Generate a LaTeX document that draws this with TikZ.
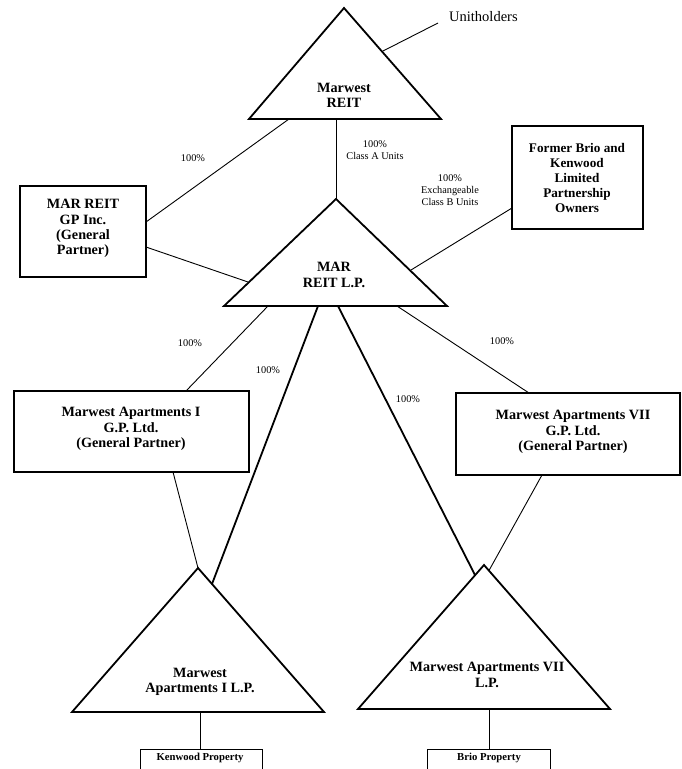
\documentclass[tikz,border=0pt]{standalone}
\usepackage{fontspec}
\setmainfont{Liberation Serif}
\begin{document}
\begin{tikzpicture}[x=1pt,y=-1pt,
  thinline/.style={line width=0.9pt},
  heavyline/.style={line width=1.8pt},
  tri/.style={line width=1.8pt, line join=miter},
  boxshape/.style={draw, line width=1.6pt, inner sep=0pt},
  smallbox/.style={draw, line width=0.9pt, inner sep=0pt},
  boxt/.style={font=\bfseries\fontsize{14.2}{15.2}\selectfont, align=center, inner sep=0pt},
  boxtsmall/.style={font=\bfseries\fontsize{13.2}{15.2}\selectfont, align=center, inner sep=0pt},
  propt/.style={font=\bfseries\fontsize{10.7}{12}\selectfont, inner sep=0pt},
  lab/.style={font=\fontsize{10.3}{11.8}\selectfont, align=center, inner sep=0pt}]
\useasboundingbox (0,0) rectangle (681,769);
\clip (0,0) rectangle (681,769);
\fill[white] (0,0) rectangle (681,769);

% triangles
\coordinate (T1a) at (344,8);   \coordinate (T1l) at (249,119); \coordinate (T1r) at (441,119);
\coordinate (T2a) at (336,199); \coordinate (T2l) at (224,306); \coordinate (T2r) at (447,306);
\coordinate (T3a) at (198,568); \coordinate (T3l) at (72,712);  \coordinate (T3r) at (324,712);
\coordinate (T4a) at (484,565); \coordinate (T4l) at (358,709); \coordinate (T4r) at (610,709);
\draw[tri] (T1a) -- (T1r) -- (T1l) -- cycle;
\draw[tri] (T2a) -- (T2r) -- (T2l) -- cycle;
\draw[tri] (T3a) -- (T3r) -- (T3l) -- cycle;
\draw[tri] (T4a) -- (T4r) -- (T4l) -- cycle;
\node[boxt] (reit) at (344,95.5) {Marwest\\REIT};
\node[boxt] (reitlp) at (334,275) {MAR\\REIT L.P.};
\node[boxt] (apIlp) at (200,681.5) {Marwest\\Apartments I L.P.};
\node[boxt] (apVIIlp) at (487,675) {Marwest Apartments VII\\L.P.};

% boxes
\node[boxshape, minimum width=126pt, minimum height=91pt] (gpinc) at (83,231.5) {};
\node[boxt] (gpinct) at (83,228.5) {MAR REIT\\GP Inc.\\(General\\Partner)};
\node[boxshape, minimum width=131pt, minimum height=103pt] (former) at (577.5,177.5) {};
\node[boxtsmall] (formert) at (577,178) {Former Brio and\\Kenwood\\Limited\\Partnership\\Owners};
\node[boxshape, minimum width=235pt, minimum height=81pt] (apI) at (131.5,431.5) {};
\node[boxt] (apIt) at (131,429) {Marwest Apartments I\\G.P. Ltd.\\(General Partner)};
\node[boxshape, minimum width=224pt, minimum height=82pt] (apVII) at (568,434) {};
\node[boxt] (apVIIt) at (573,432) {Marwest Apartments VII\\G.P. Ltd.\\(General Partner)};
\node[smallbox, minimum width=122pt, minimum height=40pt] (kenwood) at (201,769) {};
\node[propt] (kenwoodt) at (200,758) {Kenwood Property};
\node[smallbox, minimum width=123pt, minimum height=40pt] (brio) at (488.5,769) {};
\node[propt] (briot) at (489,757.5) {Brio Property};

% unitholders
\node[font=\fontsize{14.5}{16}\selectfont, anchor=west, inner sep=0pt] (unit) at (449,17) {Unitholders};
\coordinate (U1) at (383,51);
\coordinate (U2) at (438,23);
\draw[thinline] (U1) -- (U2);

% connectors
\coordinate (c1a) at (289,119); \coordinate (c1b) at (146,222);
\draw[thinline] (c1a) -- (c1b);
\coordinate (c2a) at (336,119);
\draw[thinline] (c2a) -- (T2a);
\coordinate (c3a) at (146,247); \coordinate (c3b) at (248,282);
\draw[thinline] (c3a) -- (c3b);
\coordinate (c4a) at (512,208); \coordinate (c4b) at (411,270);
\draw[thinline] (c4a) -- (c4b);
\coordinate (c5a) at (268,306); \coordinate (c5b) at (186,391);
\draw[thinline] (c5a) -- (c5b);
\coordinate (c6a) at (318,306); \coordinate (c6b) at (212,584);
\draw[heavyline] (c6a) -- (c6b);
\coordinate (c7a) at (338,306); \coordinate (c7b) at (475,575);
\draw[heavyline] (c7a) -- (c7b);
\coordinate (c8a) at (397,306); \coordinate (c8b) at (529,393);
\draw[thinline] (c8a) -- (c8b);
\coordinate (c9a) at (173,472);
\draw[thinline] (c9a) -- (T3a);
\coordinate (c10a) at (542,475); \coordinate (c10b) at (489,570.5);
\draw[thinline] (c10a) -- (c10b);
\coordinate (c11a) at (200,712);
\draw[thinline] (c11a) -- (c11a |- kenwood.north);
\coordinate (c12a) at (489,709);
\draw[thinline] (c12a) -- (c12a |- brio.north);

% labels
\node[lab] (l1) at (193,158) {100\%};
\node[lab] (l2) at (375,150) {100\%\\Class A Units};
\node[lab] (l3) at (450,190) {100\%\\Exchangeable\\Class B Units};
\node[lab] (l4) at (190,343) {100\%};
\node[lab] (l5) at (268,370) {100\%};
\node[lab] (l6) at (408,399) {100\%};
\node[lab] (l7) at (502,341) {100\%};
\end{tikzpicture}
\end{document}
